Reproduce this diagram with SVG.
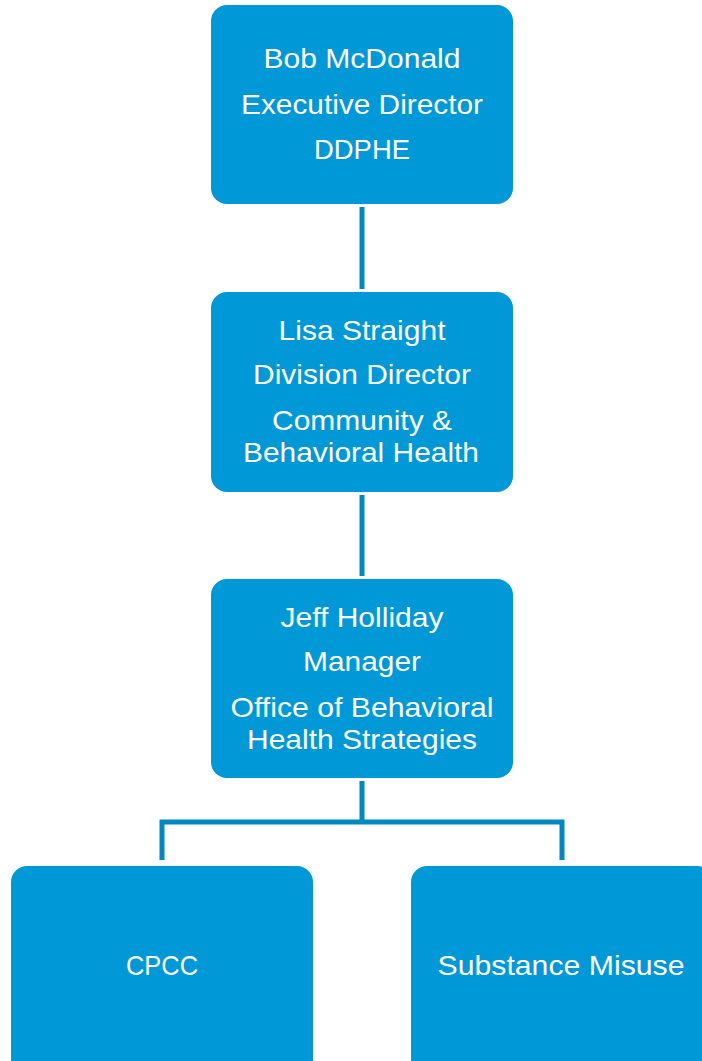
<svg xmlns="http://www.w3.org/2000/svg" width="702" height="1061" viewBox="0 0 702 1061">
<style>
.box{fill:#0098D6;}
.lbl{font-family:"Liberation Sans",Arial,sans-serif;font-size:28px;fill:#ffffff;text-anchor:middle;}
.conn{stroke:#0088C2;stroke-width:5;fill:none;}
</style>
<rect width="702" height="1061" fill="#ffffff"/>
<g id="connectors">
<line class="conn" x1="362" y1="207" x2="362" y2="289"/>
<line class="conn" x1="362" y1="495" x2="362" y2="576"/>
<path class="conn" d="M362 781 V822 M162 860 V822 H562 V860"/>
</g>
<g id="node-bob">
<rect class="box" x="211" y="5" width="302" height="199" rx="16"/>
<text class="lbl" x="362" y="68" textLength="197" lengthAdjust="spacingAndGlyphs">Bob McDonald</text>
<text class="lbl" x="362" y="114" textLength="242" lengthAdjust="spacingAndGlyphs">Executive Director</text>
<text class="lbl" x="362" y="159" textLength="96" lengthAdjust="spacingAndGlyphs">DDPHE</text>
</g>
<g id="node-lisa">
<rect class="box" x="211" y="292" width="302" height="200" rx="16"/>
<text class="lbl" x="362" y="340" textLength="167" lengthAdjust="spacingAndGlyphs">Lisa Straight</text>
<text class="lbl" x="362" y="384" textLength="218" lengthAdjust="spacingAndGlyphs">Division Director</text>
<text class="lbl" x="362" y="430" textLength="180" lengthAdjust="spacingAndGlyphs">Community &amp;</text>
<text class="lbl" x="361" y="462" textLength="236" lengthAdjust="spacingAndGlyphs">Behavioral Health</text>
</g>
<g id="node-jeff">
<rect class="box" x="211" y="579" width="302" height="199" rx="16"/>
<text class="lbl" x="362" y="627" textLength="163" lengthAdjust="spacingAndGlyphs">Jeff Holliday</text>
<text class="lbl" x="362" y="671" textLength="118" lengthAdjust="spacingAndGlyphs">Manager</text>
<text class="lbl" x="362" y="717" textLength="263" lengthAdjust="spacingAndGlyphs">Office of Behavioral</text>
<text class="lbl" x="362" y="749" textLength="230" lengthAdjust="spacingAndGlyphs">Health Strategies</text>
</g>
<g id="node-cpcc">
<rect class="box" x="11" y="866" width="302" height="215" rx="16"/>
<text class="lbl" x="162" y="975" textLength="72" lengthAdjust="spacingAndGlyphs">CPCC</text>
</g>
<g id="node-substance">
<rect class="box" x="411" y="866" width="302" height="215" rx="16"/>
<text class="lbl" x="561" y="975" textLength="247" lengthAdjust="spacingAndGlyphs">Substance Misuse</text>
</g>
</svg>
